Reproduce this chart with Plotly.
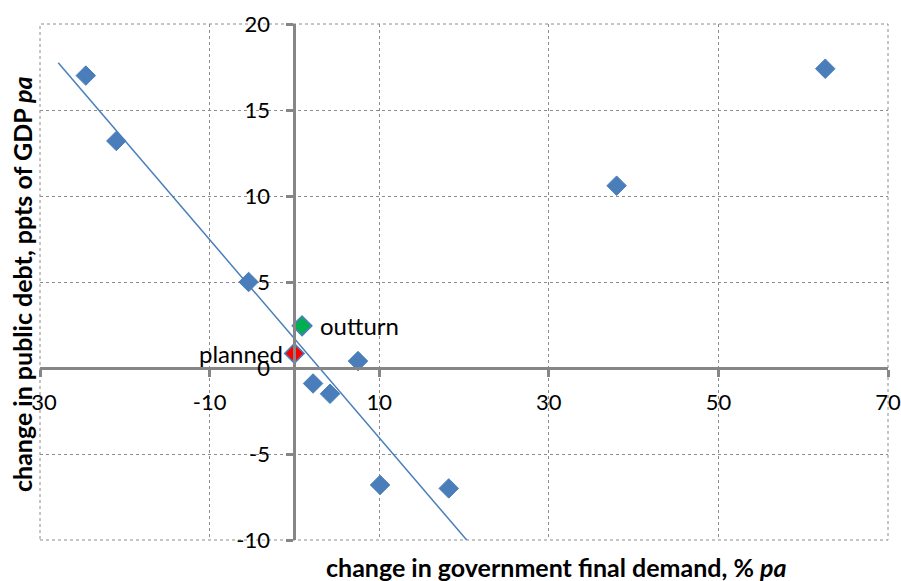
import plotly.graph_objects as go

# ---- data ----
gov_demand = [-24.6, -21.0, -5.4, 2.2, 4.2, 7.5, 10.1, 18.2, 38.0, 62.6]
debt_change = [17.0, 13.2, 5.0, -0.9, -1.5, 0.4, -6.8, -7.0, 10.6, 17.4]

outturn_x = [0.9]
outturn_y = [2.45]
planned_x = [0.0]
planned_y = [0.85]

trend_x = [-27.85, 21.1]
trend_y = [17.75, -10.45]

x_ticks = [-30, -10, 10, 30, 50, 70]
x_tick_text = ["-30", "-10", "10", "30", "50", "70"]
y_ticks = [-10, -5, 0, 5, 10, 15, 20]
y_tick_text = ["-10", "-5", "0", "5", "10", "15", "20"]
x_range = [-30, 70]
y_range = [-10, 20]

x_title = "<b>change in government final demand, % <i>pa</i></b>"
y_title = "<b>change in public debt, ppts of GDP <i>pa</i></b>"

# ---- style ----
BLUE = "#4A7EBB"
GREEN = "#00B050"
RED = "#FF0000"
AXIS = "#868686"
GRID = "#8C8C8C"
FONT = "Lato"
W, H = 901, 581
L, R, T, B = 40, 13, 24, 41
pw, ph = W - L - R, H - T - B

fig = go.Figure()

fig.add_trace(go.Scatter(x=trend_x, y=trend_y, mode="lines",
                         line=dict(color=BLUE, width=1.5), hoverinfo="skip"))
fig.add_trace(go.Scatter(x=gov_demand, y=debt_change, mode="markers",
                         marker=dict(symbol="diamond", size=15, color=BLUE,
                                     line=dict(color=BLUE, width=1))))
fig.add_trace(go.Scatter(x=outturn_x, y=outturn_y, mode="markers",
                         marker=dict(symbol="diamond", size=15, color=GREEN,
                                     line=dict(color=BLUE, width=1.5))))
fig.add_trace(go.Scatter(x=planned_x, y=planned_y, mode="markers",
                         marker=dict(symbol="diamond", size=15, color=RED,
                                     line=dict(color=BLUE, width=1.5))))

# axes crossing at the origin
x_pos = (0 - y_range[0]) / (y_range[1] - y_range[0])
y_pos = (0 - x_range[0]) / (x_range[1] - x_range[0])

fig.update_layout(
    width=W, height=H,
    margin=dict(l=L, r=R, t=T, b=B, autoexpand=False),
    paper_bgcolor="white", plot_bgcolor="white",
    showlegend=False,
    font=dict(family=FONT, size=22, color="black"),
    xaxis=dict(range=x_range, tickvals=x_ticks, ticktext=x_tick_text,
               anchor="free", position=x_pos, automargin=False,
               showgrid=True, gridcolor=GRID, griddash="dot", gridwidth=1,
               showline=True, linecolor=AXIS, linewidth=3,
               ticks="outside", ticklen=7, tickwidth=3, tickcolor=AXIS,
               zeroline=False, ticklabelstandoff=7,
               tickfont=dict(family=FONT, size=22, color="black")),
    yaxis=dict(range=y_range, tickvals=y_ticks, ticktext=y_tick_text,
               anchor="free", position=y_pos, automargin=False,
               showgrid=True, gridcolor=GRID, griddash="dot", gridwidth=1,
               showline=True, linecolor=AXIS, linewidth=3,
               ticks="outside", ticklen=7, tickwidth=3, tickcolor=AXIS,
               zeroline=False, ticklabelstandoff=12,
               tickfont=dict(family=FONT, size=22, color="black")),
    shapes=[dict(type="rect", xref="paper", yref="paper", x0=0, y0=0, x1=1, y1=1,
                 line=dict(color=GRID, width=1, dash="dot"), layer="below")],
    annotations=[
        dict(x=outturn_x[0], y=outturn_y[0], text="outturn", showarrow=False,
             xanchor="left", yanchor="middle", xshift=16,
             font=dict(family=FONT, size=24, color="black")),
        dict(x=planned_x[0], y=planned_y[0], text="planned", showarrow=False,
             xanchor="right", yanchor="middle", xshift=-9,
             font=dict(family=FONT, size=24, color="black")),
        dict(xref="paper", yref="paper", x=(556 - L) / pw, y=1 - (567 - T) / ph,
             text=x_title, showarrow=False, xanchor="center", yanchor="middle",
             font=dict(family=FONT, size=25, color="black")),
        dict(xref="paper", yref="paper", x=(22 - L) / pw, y=1 - (284 - T) / ph,
             text=y_title, textangle=-90, showarrow=False,
             xanchor="center", yanchor="middle",
             font=dict(family=FONT, size=25, color="black")),
    ],
)

fig.write_html("out.html", config={"responsive": False, "displayModeBar": False},
               post_script="document.body.style.margin='0px';")
